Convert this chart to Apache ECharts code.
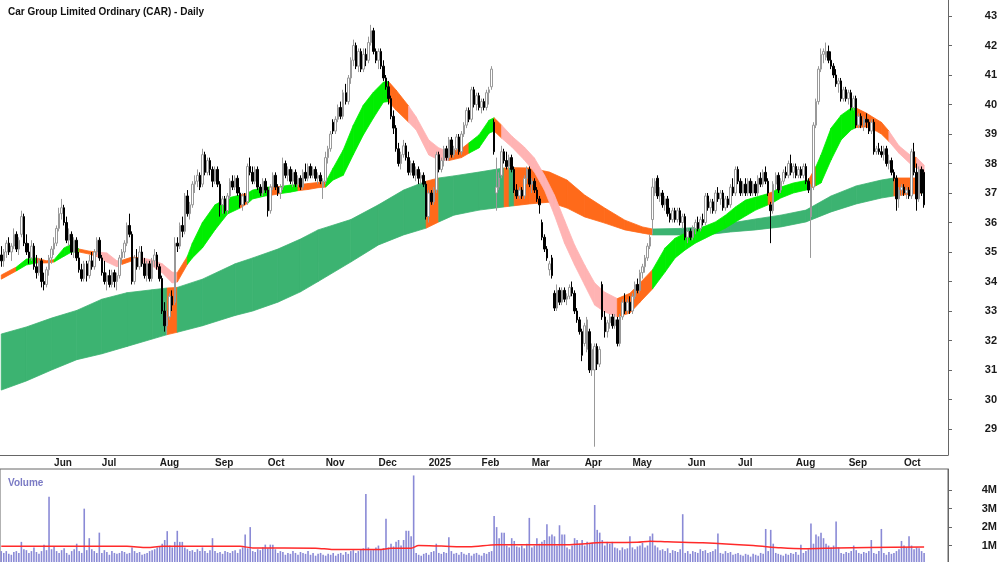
<!DOCTYPE html>
<html>
<head>
<meta charset="utf-8">
<script src="https://cdn.jsdelivr.net/npm/echarts@6/dist/echarts.min.js"></script>
<style>
  html, body { margin: 0; padding: 0; background: #fff; }
  #chart { width: 1000px; height: 562px; }
</style>
</head>
<body>
<div id="chart"></div>
<script>
// trading calendar (ASX)
var startDate = '2024-05-03';
var holidays = ['2024-06-10', '2024-12-25', '2024-12-26', '2025-01-01', '2025-01-27',
                '2025-04-18', '2025-04-21', '2025-04-25', '2025-06-09'];
var padBars = 9;
var monthNames = ['Jan', 'Feb', 'Mar', 'Apr', 'May', 'Jun', 'Jul', 'Aug', 'Sep', 'Oct', 'Nov', 'Dec'];

// daily bars: [open, high, low, close]
var ohlc = [
  [34.9,35.2,34.5,34.7],[34.7,35.1,34.5,35.0],[35.0,35.4,34.8,35.3],[35.3,35.5,34.9,35.0],[35.0,35.3,34.7,35.2],
  [35.2,35.8,35.1,35.6],[35.6,35.7,35.0,35.1],[35.1,35.5,34.9,35.4],[35.6,36.4,35.5,36.2],[36.2,36.3,35.2,35.3],
  [35.3,35.6,34.9,35.0],[35.0,35.3,34.6,34.8],[34.8,35.4,34.7,35.2],[35.2,35.3,34.4,34.5],[34.5,34.9,34.1,34.3],
  [34.3,34.8,34.2,34.7],[34.7,34.8,33.8,34.0],[34.0,34.3,33.7,33.9],[33.9,34.5,33.8,34.4],[34.4,34.9,34.2,34.8],
  [34.8,35.2,34.6,35.1],[35.1,35.5,34.9,35.3],[35.3,35.9,35.2,35.8],[35.8,36.5,35.7,36.3],[36.3,36.8,36.1,36.5],
  [36.5,36.6,35.9,36.0],[36.0,36.2,35.3,35.4],[35.4,35.8,35.2,35.6],[35.6,35.7,34.9,35.0],[35.0,35.5,34.8,35.4],
  [35.4,35.5,34.7,34.8],[34.8,35.0,34.3,34.4],[34.4,34.6,34.0,34.1],[34.1,34.7,34.0,34.6],[34.6,34.7,34.0,34.2],
  [34.2,34.9,34.1,34.7],[34.7,35.0,34.4,34.5],[34.5,35.1,34.4,35.0],[35.0,35.5,34.9,35.4],[35.4,35.5,34.7,34.8],
  [34.8,34.9,34.2,34.3],[34.3,34.7,33.9,34.0],[34.0,34.3,33.7,34.2],[34.2,34.4,33.8,33.9],[33.9,34.4,33.8,34.3],
  [34.3,34.4,33.8,34.0],[34.0,34.3,33.7,34.2],[34.2,34.9,34.1,34.8],[34.8,35.1,34.6,35.0],[35.0,35.4,34.8,35.3],
  [35.3,36.0,35.2,35.9],[35.9,36.3,35.5,35.6],[35.6,35.7,33.9,34.0],[34.0,34.9,33.9,34.8],[34.8,35.1,34.4,34.5],
  [34.5,35.2,34.4,35.0],[35.0,35.2,34.5,34.6],[34.6,34.8,34.1,34.2],[34.2,34.7,34.0,34.6],[34.6,34.7,34.0,34.1],
  [34.1,34.8,34.0,34.7],[34.7,35.1,34.5,34.9],[34.9,35.0,34.4,34.5],[34.5,34.6,34.0,34.1],[34.1,34.2,32.9,33.0],
  [33.0,33.3,32.3,32.5],[32.5,33.0,32.2,32.8],[32.8,33.6,32.7,33.5],[33.5,33.7,33.0,33.2],[33.3,35.5,33.2,35.3],
  [35.3,35.5,35.0,35.2],[35.2,36.0,35.1,35.9],[35.9,36.2,35.5,35.7],[35.7,37.0,35.6,36.9],[36.9,37.1,36.2,36.3],
  [36.3,36.7,36.1,36.6],[36.6,37.4,36.5,37.3],[37.3,37.6,37.0,37.4],[37.4,37.8,37.2,37.6],[37.6,37.7,37.1,37.2],
  [37.3,38.5,37.2,38.3],[38.3,38.4,37.6,37.7],[37.7,38.2,37.6,38.1],[38.1,38.2,37.6,37.8],[37.8,37.9,37.2,37.4],
  [37.4,37.9,37.3,37.8],[37.8,37.9,37.2,37.3],[37.3,37.4,36.2,36.6],[36.6,36.9,36.3,36.8],[36.8,36.9,36.3,36.4],
  [36.4,37.0,36.3,36.9],[36.9,37.5,36.8,37.4],[37.4,37.6,37.1,37.2],[37.2,37.6,37.1,37.5],[37.5,37.6,36.9,37.0],
  [37.0,37.2,36.5,36.6],[36.6,37.0,36.4,36.9],[36.9,37.0,36.6,36.7],[36.7,38.0,36.6,37.9],[37.9,38.2,37.6,37.7],
  [37.7,37.9,37.3,37.4],[37.4,37.9,37.3,37.8],[37.8,37.9,37.1,37.2],[37.2,37.3,36.9,37.0],[37.0,37.5,36.9,37.4],
  [37.4,37.5,37.0,37.1],[37.1,37.2,36.2,36.4],[36.4,37.3,36.3,37.2],[37.2,37.7,37.1,37.6],[37.6,37.7,37.1,37.2],
  [37.2,37.3,36.9,37.0],[37.0,37.3,36.8,37.2],[37.2,38.2,37.1,38.0],[38.0,38.1,37.5,37.6],[37.6,37.9,37.4,37.8],
  [37.8,37.9,37.3,37.4],[37.4,37.8,37.2,37.7],[37.7,37.8,37.2,37.3],[37.3,37.6,37.2,37.5],[37.5,37.6,37.1,37.2],
  [37.2,37.8,37.1,37.7],[37.7,38.0,37.4,37.5],[37.5,38.0,37.4,37.9],[37.9,38.0,37.5,37.6],[37.6,37.9,37.5,37.8],
  [37.8,37.9,37.4,37.5],[37.5,37.7,37.3,37.6],[37.6,37.7,37.3,37.4],[37.2,37.5,36.8,37.4],[37.4,38.4,37.3,38.2],
  [38.2,38.6,38.0,38.5],[38.5,39.1,38.4,39.0],[39.4,39.5,39.0,39.1],[39.1,39.6,39.0,39.5],[39.5,40.0,39.4,39.9],
  [39.9,40.1,39.5,39.6],[39.6,40.5,39.5,40.4],[40.4,40.7,40.0,40.1],[40.1,41.0,40.0,40.9],[40.9,41.6,40.7,41.5],
  [41.5,42.2,41.3,42.0],[42.0,42.1,41.2,41.3],[41.3,41.9,41.1,41.8],[41.8,41.9,41.1,41.2],[41.2,41.9,41.1,41.7],
  [41.7,41.9,41.3,41.5],[41.5,42.3,41.4,42.1],[42.1,42.7,42.0,42.5],[42.5,42.6,41.7,41.8],[41.8,41.9,41.4,41.5],
  [41.5,41.9,41.2,41.8],[41.8,41.9,41.2,41.3],[41.3,41.5,40.8,40.9],[40.9,41.0,40.5,40.6],[40.6,40.8,40.0,40.2],
  [40.2,40.3,39.5,39.6],[39.6,39.8,39.0,39.2],[39.2,39.3,38.4,38.5],[38.5,38.7,37.9,38.0],[38.0,38.4,37.8,38.3],
  [38.3,38.8,38.2,38.6],[38.6,38.7,38.1,38.2],[38.2,38.4,37.6,37.7],[37.7,38.1,37.6,38.0],[38.0,38.1,37.5,37.6],
  [37.6,37.9,37.4,37.8],[37.8,37.9,37.3,37.5],[37.5,37.7,37.3,37.6],[37.6,37.7,37.2,37.3],[37.3,37.4,36.1,36.2],
  [36.2,37.1,36.0,37.0],[37.0,37.1,36.6,36.7],[36.7,37.2,36.6,37.1],[37.1,38.4,37.0,38.3],[38.3,38.4,37.7,37.8],
  [37.8,38.2,37.7,38.1],[38.1,38.6,37.9,38.5],[38.5,38.6,38.1,38.2],[38.2,38.9,38.1,38.8],[38.8,38.9,38.2,38.3],
  [38.3,38.6,38.2,38.5],[38.5,39.0,38.4,38.9],[38.9,39.0,38.3,38.4],[38.4,39.1,38.3,39.0],[39.0,39.4,38.9,39.3],
  [39.3,39.9,39.2,39.8],[39.8,39.9,39.4,39.5],[39.5,40.6,39.4,40.5],[40.5,40.6,39.9,40.0],[40.0,40.4,39.8,40.3],
  [40.3,40.4,39.8,39.9],[39.9,40.2,39.7,40.1],[40.1,40.2,39.8,39.9],[39.9,40.5,39.8,40.4],[40.4,40.6,40.0,40.5],
  [40.6,41.3,40.5,41.2],[39.4,39.5,38.3,38.4],[37.0,38.2,36.4,37.2],[37.2,37.7,37.1,37.5],[37.6,38.6,37.5,38.4],
  [38.4,38.5,38.0,38.1],[38.1,38.4,37.8,37.9],[37.9,38.3,37.8,38.2],[38.2,38.3,37.7,37.8],[37.8,37.9,37.0,37.1],
  [37.1,37.3,36.8,36.9],[36.9,37.2,36.8,37.1],[37.1,37.2,36.8,36.9],[36.9,37.6,36.8,37.5],[37.5,37.9,37.3,37.8],
  [37.8,37.9,37.2,37.3],[37.3,37.5,37.0,37.4],[37.4,37.5,37.0,37.1],[37.1,37.2,36.7,36.8],[36.8,36.9,36.3,36.6],
  [36.0,36.1,35.4,35.5],[35.5,35.6,35.0,35.1],[35.1,35.2,34.7,34.8],[34.4,34.7,34.2,34.6],[34.8,34.9,34.1,34.2],
  [33.6,33.7,33.0,33.1],[33.1,33.9,33.0,33.7],[33.7,33.8,33.2,33.3],[33.3,33.8,33.2,33.7],[33.7,33.8,33.3,33.4],
  [33.4,33.6,33.2,33.5],[33.5,33.9,33.4,33.8],[33.8,34.0,33.5,33.6],[33.6,33.7,32.9,33.0],[33.0,33.1,32.6,32.7],
  [32.7,32.8,32.2,32.3],[32.3,32.4,31.3,31.5],[31.9,32.6,31.8,32.5],[31.7,32.8,31.6,32.7],[32.3,32.4,30.9,31.0],
  [31.0,31.9,30.8,31.7],[31.0,31.9,28.4,31.8],[31.8,31.9,31.0,31.2],[31.2,31.8,31.1,31.7],[33.9,34.0,32.7,32.8],
  [32.8,33.0,32.1,32.3],[32.3,32.7,32.1,32.6],[32.6,32.9,32.4,32.8],[32.8,32.9,32.4,32.5],[32.5,32.9,32.4,32.7],
  [32.7,32.8,31.8,31.9],[31.9,32.9,31.8,32.8],[32.8,33.4,32.7,33.3],[33.3,33.6,32.9,33.0],[33.0,33.4,32.9,33.3],
  [33.3,33.5,32.9,33.0],[33.0,33.6,32.9,33.5],[33.5,34.0,33.4,33.9],[33.9,34.1,33.6,33.7],[33.7,34.4,33.6,34.3],
  [34.3,34.6,34.1,34.5],[34.5,34.9,34.3,34.8],[34.8,35.3,34.7,35.2],[35.2,35.6,35.1,35.5],[36.1,37.5,35.6,37.2],
  [37.0,37.5,36.9,37.4],[37.5,37.6,36.8,36.9],[36.9,37.2,36.7,37.0],[37.0,37.1,36.5,36.6],[36.6,36.9,36.4,36.8],
  [36.8,36.9,36.2,36.3],[36.3,36.5,36.0,36.1],[36.1,36.5,36.0,36.4],[36.4,36.5,36.0,36.1],[36.1,36.5,36.0,36.4],
  [36.4,36.5,35.9,36.0],[36.0,36.3,35.8,36.2],[36.2,36.3,35.4,35.5],[35.5,35.8,35.3,35.7],[35.7,35.8,35.4,35.5],
  [35.5,35.9,35.4,35.8],[35.8,36.1,35.6,36.0],[36.0,36.2,35.7,35.8],[35.8,36.2,35.7,36.1],[36.1,36.3,35.9,36.0],
  [36.0,37.0,35.9,36.9],[36.9,37.0,36.4,36.5],[36.5,36.8,36.3,36.7],[36.7,36.8,36.3,36.4],[36.4,37.1,36.3,37.0],
  [37.0,37.2,36.7,36.8],[36.8,37.1,36.6,37.0],[37.0,37.1,36.4,36.5],[36.5,36.9,36.4,36.8],[36.8,36.9,36.5,36.6],
  [36.6,37.3,36.5,37.2],[37.2,37.5,36.9,37.0],[37.0,37.9,36.9,37.8],[37.8,37.9,37.3,37.4],[37.4,37.5,36.9,37.0],
  [37.0,37.4,36.9,37.3],[37.3,37.5,36.9,37.0],[37.0,37.5,36.9,37.4],[37.4,37.5,36.9,37.0],[37.0,37.4,36.9,37.3],
  [37.3,37.4,36.9,37.0],[37.0,37.6,36.9,37.5],[37.5,37.7,37.2,37.3],[37.3,37.8,37.2,37.7],[37.7,37.9,37.3,37.4],
  [37.4,37.5,36.9,37.0],[36.6,36.7,35.3,36.4],[36.4,37.4,36.3,37.3],[37.3,37.7,37.1,37.6],[37.6,37.7,37.0,37.1],
  [37.1,37.5,37.0,37.4],[37.4,37.8,37.3,37.7],[37.7,37.9,37.5,37.6],[37.6,38.1,37.5,38.0],[38.0,38.3,37.6,37.7],
  [37.7,38.0,37.5,37.9],[37.9,38.0,37.5,37.6],[37.6,37.9,37.5,37.8],[37.8,37.9,37.5,37.6],[37.6,38.0,37.5,37.9],
  [37.9,38.0,37.3,37.4],[37.4,37.5,37.0,37.1],[36.2,37.3,34.8,37.2],[37.2,39.4,37.1,39.3],[39.3,40.2,39.2,40.1],
  [40.1,41.3,40.0,41.2],[41.2,41.9,41.1,41.7],[41.7,41.9,41.4,41.8],[41.6,42.1,41.5,41.8],[41.8,42.0,41.4,41.5],
  [41.5,41.8,41.2,41.3],[41.3,41.4,40.9,41.0],[41.0,41.2,40.6,40.7],[40.7,40.9,40.4,40.8],[40.8,40.9,40.1,40.2],
  [40.2,40.6,40.1,40.5],[40.5,40.6,40.1,40.2],[40.2,40.5,40.0,40.4],[40.4,40.5,39.8,39.9],[39.9,40.3,39.8,40.2],
  [40.2,40.3,39.2,39.3],[39.3,39.7,39.2,39.6],[39.6,39.7,39.2,39.3],[39.3,39.6,39.1,39.5],[39.5,39.7,39.2,39.4],
  [39.4,39.5,39.0,39.1],[39.1,39.5,39.0,39.4],[39.4,39.5,38.3,38.4],[38.4,38.6,38.3,38.5],[38.5,38.7,38.3,38.4],
  [38.4,38.6,38.2,38.3],[38.3,38.6,38.1,38.5],[38.5,38.6,37.9,38.0],[38.0,38.3,37.8,38.1],[38.1,38.2,37.6,37.7],
  [37.7,37.8,37.4,37.5],[37.5,37.6,36.4,36.8],[36.8,37.2,36.5,37.1],[37.1,37.3,36.9,37.2],[37.2,37.3,36.9,37.0],
  [37.0,37.2,36.8,37.1],[37.1,37.2,36.8,36.9],[36.9,38.5,36.8,38.4],[38.4,38.7,37.6,37.7],[37.7,38.0,36.4,36.8],
  [36.8,37.9,36.7,37.8],[37.8,37.9,36.9,37.0],[37.7,37.8,36.5,36.6]
];

// daily volume, millions of shares
var volume = [
  0.7,0.6,0.7,0.55,0.5,0.65,0.7,0.6,1.2,0.8,
  0.75,0.6,0.7,0.9,0.65,0.55,0.7,1.05,0.75,3.65,
  0.8,0.95,0.7,0.6,0.75,0.85,0.6,0.5,0.7,0.8,
  1.1,0.7,0.6,3.0,0.75,1.4,0.8,0.7,0.6,1.7,
  0.6,0.75,0.65,0.5,0.7,0.6,0.55,0.6,0.7,0.65,
  0.55,0.6,0.9,0.7,0.6,0.65,0.5,0.55,0.6,0.7,
  0.75,0.8,0.9,0.95,1.1,1.3,1.78,1.0,0.9,1.2,
  1.8,1.2,1.2,0.9,0.8,0.7,0.75,0.65,0.8,0.7,
  0.9,0.7,0.6,0.75,1.4,0.7,0.6,0.65,0.55,0.7,
  0.65,0.6,0.7,0.75,0.6,0.8,0.9,1.6,0.85,2.0,
  0.7,0.65,0.8,0.75,0.9,1.05,0.85,1.05,1.05,0.8,
  0.6,0.7,0.65,0.5,0.6,0.55,0.7,0.6,0.5,0.65,
  0.6,0.55,0.7,0.5,0.6,0.45,0.55,0.6,0.5,0.45,
  0.55,0.5,0.6,0.45,0.55,0.6,0.5,0.65,0.55,0.7,
  0.75,0.6,0.7,0.8,0.85,3.8,0.9,0.75,0.8,0.9,
  1.0,0.8,0.85,2.45,0.9,1.1,0.95,1.2,1.3,1.0,
  1.3,1.8,1.8,1.5,4.8,0.6,0.5,0.45,0.55,0.6,
  0.5,0.65,0.7,1.1,0.6,0.55,0.65,0.6,1.45,0.7,
  0.55,0.6,0.5,0.65,0.55,0.5,0.6,0.45,0.55,0.6,
  0.5,0.45,0.6,0.55,0.65,0.7,2.6,2.0,1.4,1.7,
  1.7,1.0,0.9,1.4,1.25,0.95,0.9,1.0,0.85,1.1,
  2.5,0.9,1.0,1.4,1.1,1.2,1.3,2.15,1.5,1.6,
  1.5,1.0,2.1,1.6,1.6,0.9,0.8,1.0,1.4,1.3,
  1.1,1.3,1.0,1.2,1.1,1.15,3.2,1.85,1.7,1.3,
  1.0,1.2,1.1,1.2,0.9,0.85,0.75,0.9,0.8,0.85,
  1.5,0.9,0.8,0.95,1.0,1.15,0.9,1.0,1.5,1.65,
  1.0,0.9,0.75,0.8,0.7,0.85,0.6,0.75,0.7,0.65,
  0.8,2.7,0.6,0.7,0.55,0.7,0.65,0.6,0.8,0.7,
  0.75,0.6,0.65,0.7,0.8,1.65,0.6,0.55,0.7,0.6,
  0.65,0.5,0.55,0.6,0.5,0.45,0.55,0.5,0.4,0.55,
  0.5,0.45,0.6,0.55,1.9,0.7,1.85,1.1,0.6,0.55,
  0.5,0.45,0.55,0.5,0.6,0.55,0.65,0.5,1.05,0.6,
  0.7,0.8,2.2,1.1,1.6,1.5,1.7,1.4,1.1,1.0,
  0.9,1.0,2.3,0.9,0.6,0.55,0.65,0.6,0.7,1.0,
  0.75,0.6,0.55,0.65,0.6,0.7,1.3,0.6,0.55,0.7,
  1.9,0.6,0.5,0.65,0.55,0.6,0.7,0.8,1.25,1.0,
  0.9,1.5,1.0,0.8,0.9,0.85,0.7,0.6
];

// volume average line, read at bar positions (millions)
var volMaIdx = [0, 50, 58, 64, 95, 100, 125, 132, 150, 155, 163, 166, 175, 186, 197, 226, 239, 253, 258, 265, 279, 299, 310, 319, 332, 345, 367];
var volMa    = [0.96, 0.96, 0.89, 0.96, 0.96, 0.87, 0.86, 0.78, 0.78, 0.85, 0.86, 1.0, 0.97, 0.93, 1.05, 1.05, 1.16, 1.18, 1.24, 1.2, 1.15, 1.0, 0.88, 0.83, 0.87, 0.9, 0.92];

// short-term ribbon, read at bar positions; colour code applies to the stretch that follows
var shortIdx = [0,6,10,14,18,21,25,28,31,35, 38,42,46,48,52,56,60,64,68,70,
  74,76,80,85,90,95,98,100,105,107, 111,115,118,122,126,129,132,136,140,144,
  148,152,154,157,162,165,170,174,178,183, 186,190,194,196,199,203,208,212,216,220,
  224,228,232,236,240,245,250,254,259,264, 268,272,276,280,284,288,292,296,300,305,
  307,310,315,321,324,326,330,334,338,340, 344,348,350,353,357,362,364,367];
var shortLo = [34.08,34.36,34.56,34.63,34.63,34.66,34.86,35.00,35.00,34.93, 34.85,34.66,34.50,34.58,34.70,34.66,34.53,34.30,33.95,33.98,
  34.58,34.80,35.14,35.75,36.29,36.49,36.65,36.80,36.90,36.92, 36.98,37.03,37.08,37.12,37.18,37.20,37.44,37.60,38.30,38.97,
  39.54,40.08,40.10,39.81,39.40,39.14,38.29,38.12,38.10,38.20, 38.35,38.53,39.03,39.10,38.86,38.56,38.12,37.71,37.10,36.25,
  35.30,34.56,33.88,33.20,32.97,32.80,32.93,33.30,33.75,34.32, 34.80,35.07,35.30,35.47,35.64,35.81,36.02,36.22,36.42,36.60,
  36.68,36.83,37.00,37.12,37.25,37.34,38.12,38.80,39.14,39.22, 39.24,39.10,39.00,38.75,38.35,37.95,37.85,37.65];
var shortHi = [34.22,34.49,34.76,34.80,34.70,34.74,35.14,35.27,35.10,35.03, 35.00,34.97,34.70,34.72,34.83,34.80,34.73,34.60,34.32,34.30,
  34.85,35.30,36.00,36.60,36.83,36.93,37.00,37.10,37.20,37.20, 37.22,37.27,37.28,37.32,37.36,37.37,37.85,38.46,39.30,39.98,
  40.42,40.76,40.78,40.49,39.95,39.58,38.80,38.53,38.40,38.50, 38.70,38.97,39.47,39.55,39.30,38.93,38.56,38.19,37.61,36.93,
  36.08,35.24,34.56,33.95,33.64,33.42,33.60,33.95,34.40,35.14, 35.47,35.64,35.75,35.88,36.02,36.25,36.53,36.76,36.86,36.98,
  37.05,37.20,37.34,37.44,37.90,38.29,39.20,39.64,39.88,39.88, 39.71,39.50,39.40,39.10,38.60,38.25,38.20,37.95];
var shortCol = ('O' + 'GG' + 'OO' + 'GGG' + 'OO' + 'PPP' + 'OO' + 'PPPP' + 'O' + 'GGGGG' + 'O' + 'GGG' + 'O' + 'GG' + 'OOO' +
  'GGGGGGG' + 'OO' + 'PPPP' + 'OO' + 'GGG' + 'O' + 'PPPPPPPPPPP' + 'OOO' + 'GGGGGGGGGGG' + 'O' + 'GGG' + 'O' + 'GGGGG' +
  'OOOO' + 'PP' + 'O' + 'PP').split('');

// long-term ribbon
var longIdx = [0,10,20,30,40,50,60,66,70,80, 93,100,110,119,126,139,150,160,169,174,
  180,190,200,202,204,210,218,225,232,240, 248,255,259,270,280,290,300,310,320,325, 330,340,350,355,366,367];
var longLo = [30.32,30.63,31.00,31.35,31.55,31.80,32.05,32.20,32.28,32.50, 32.85,33.00,33.30,33.65,34.00,34.66,35.24,35.58,35.81,36.02,
  36.25,36.42,36.53,36.55,36.57,36.63,36.69,36.49,36.19,35.98, 35.75,35.64,35.58,35.58,35.58,35.68,35.75,35.85,36.02,36.19,
  36.36,36.63,36.83,36.90,37.00,37.00];
var longHi = [32.22,32.46,32.76,33.02,33.40,33.62,33.72,33.78,33.80,34.08, 34.60,34.80,35.10,35.44,35.75,36.10,36.60,37.10,37.40,37.51,
  37.58,37.71,37.85,37.85,37.86,37.85,37.71,37.44,36.93,36.49, 36.08,35.85,35.78,35.80,35.85,35.98,36.12,36.25,36.42,36.66,
  36.90,37.24,37.44,37.51,37.51,37.51];
var longCol = 'LLLLLLLOLLLLLLLLLLOLLLOLOOOOOOOOLLLLLLLLLLLOLL'.split('');

var priceTicks = [29, 30, 31, 32, 33, 34, 35, 36, 37, 38, 39, 40, 41, 42, 43];
var volTicks = [1, 2, 3, 4];

var colourKeys = ['G', 'O', 'P', 'L'];
var colours = ['#00ee00', '#ff6a1a', '#ffb3b3', '#3cb371'];

// ---- build the category axis ----
var dates = [];
var d = new Date(startDate + 'T00:00:00Z');
while (dates.length < ohlc.length) {
  var s = d.toISOString().slice(0, 10);
  var wd = d.getUTCDay();
  if (wd !== 0 && wd !== 6 && holidays.indexOf(s) < 0) dates.push(s);
  d.setUTCDate(d.getUTCDate() + 1);
}
var monthStart = {};
for (var i = 1; i < dates.length; i++) {
  if (dates[i].slice(5, 7) !== dates[i - 1].slice(5, 7)) monthStart[i] = true;
}
for (var k = 0; k < padBars; k++) dates.push('');

function bandData(idx, lo, hi, col) {
  var out = [];
  for (var j = 0; j < idx.length - 1; j++) {
    out.push([idx[j], lo[j], hi[j], idx[j + 1], lo[j + 1], hi[j + 1], colourKeys.indexOf(col[j])]);
  }
  return out;
}

function renderBand(params, api) {
  var a0 = api.coord([api.value(0), api.value(1)]);
  var b0 = api.coord([api.value(0), api.value(2)]);
  var a1 = api.coord([api.value(3), api.value(4)]);
  var b1 = api.coord([api.value(3), api.value(5)]);
  var c = colours[api.value(6)];
  return {
    type: 'polygon',
    shape: { points: [a0, a1, b1, b0] },
    style: { fill: c, stroke: c, lineWidth: 0.8 }
  };
}

var candleData = ohlc.map(function (r) { return [r[0], r[3], r[2], r[1]]; });
var volData = volume.map(function (v) { return v * 1e6; });
var volMaData = volMaIdx.map(function (x, j) { return [x, volMa[j] * 1e6]; });

var myChart = echarts.init(document.getElementById('chart'));
var fontName = 'Liberation Sans, Arial, sans-serif';

var option = {
  animation: false,
  backgroundColor: '#ffffff',
  title: [{
    text: 'Car Group Limited Ordinary (CAR) - Daily',
    left: 3, top: 2,
    textStyle: { fontFamily: fontName, fontSize: 10, fontWeight: 'bold', color: '#111' }
  }, {
    text: 'Volume',
    left: 3, top: 473,
    textStyle: { fontFamily: fontName, fontSize: 10, fontWeight: 'bold', color: '#7a7ac4' }
  }],
  grid: [
    { left: 0, right: 52, top: 0, height: 455, outerBoundsMode: 'none' },
    { left: 0, right: 52, top: 469, bottom: -2, outerBoundsMode: 'none',
      show: true, borderColor: '#666', borderWidth: 1, backgroundColor: 'transparent' }
  ],
  xAxis: [{
    type: 'category', gridIndex: 0, data: dates, boundaryGap: true,
    axisLine: { show: true, lineStyle: { color: '#666', width: 1 } },
    axisTick: { show: false },
    splitLine: { show: false },
    axisLabel: {
      interval: function (index) { return !!monthStart[index]; },
      formatter: function (value) {
        if (!value) return '';
        var m = +value.slice(5, 7);
        return m === 1 ? value.slice(0, 4) : monthNames[m - 1];
      },
      align: 'left', margin: 3, fontSize: 10,
      fontFamily: fontName, fontWeight: 'bold', color: '#1a1a1a'
    }
  }, {
    type: 'category', gridIndex: 1, data: dates, boundaryGap: true,
    axisLine: { show: false }, axisTick: { show: false }, axisLabel: { show: false }, splitLine: { show: false }
  }],
  yAxis: [{
    type: 'value', gridIndex: 0, position: 'right',
    min: 28.119, max: 43.543, scale: true,
    axisLine: { show: true, lineStyle: { color: '#666', width: 1 } },
    axisTick: { show: true, length: 4, customValues: priceTicks, lineStyle: { color: '#666' } },
    splitLine: { show: false },
    axisLabel: {
      customValues: priceTicks, align: 'right', margin: 49, fontSize: 11,
      fontFamily: fontName, fontWeight: 'bold', color: '#1a1a1a'
    }
  }, {
    type: 'value', gridIndex: 1, position: 'right',
    min: 0, max: 5.15e6,
    axisLine: { show: true, lineStyle: { color: '#666', width: 1 } },
    axisTick: { show: true, length: 4, customValues: volTicks.map(function (v) { return v * 1e6; }), lineStyle: { color: '#666' } },
    splitLine: { show: false },
    axisLabel: {
      customValues: volTicks.map(function (v) { return v * 1e6; }),
      formatter: function (v) { return Math.round(v / 1e6) + 'M'; },
      align: 'right', margin: 49, fontSize: 11,
      fontFamily: fontName, fontWeight: 'bold', color: '#1a1a1a'
    }
  }],
  series: [{
    name: 'long ribbon', type: 'custom', xAxisIndex: 0, yAxisIndex: 0,
    renderItem: renderBand, data: bandData(longIdx, longLo, longHi, longCol),
    encode: { x: [0, 3], y: [1, 2, 4, 5] }, z: 1, silent: true
  }, {
    name: 'short ribbon', type: 'custom', xAxisIndex: 0, yAxisIndex: 0,
    renderItem: renderBand, data: bandData(shortIdx, shortLo, shortHi, shortCol),
    encode: { x: [0, 3], y: [1, 2, 4, 5] }, z: 2, silent: true
  }, {
    name: 'CAR', type: 'candlestick', xAxisIndex: 0, yAxisIndex: 0,
    data: candleData, barWidth: 2, z: 5,
    itemStyle: { color: '#ffffff', color0: '#000000', borderColor: '#999999', borderColor0: '#000000', borderWidth: 1 },
    emphasis: { disabled: true }
  }, {
    name: 'Volume', type: 'bar', xAxisIndex: 1, yAxisIndex: 1,
    data: volData, barWidth: 1.6, itemStyle: { color: '#8a8ad6' }, silent: true
  }, {
    name: 'Volume MA', type: 'line', xAxisIndex: 1, yAxisIndex: 1,
    data: volMaData, smooth: 0.3, symbol: 'none',
    lineStyle: { color: '#ff2a2a', width: 1.5 }, z: 5, silent: true
  }]
};
myChart.setOption(option);
</script>
</body>
</html>
